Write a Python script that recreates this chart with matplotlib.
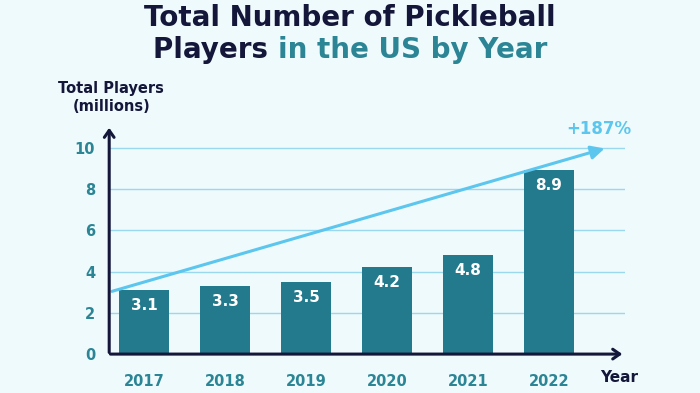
import matplotlib.pyplot as plt

years = ["2017", "2018", "2019", "2020", "2021", "2022"]
players = [3.1, 3.3, 3.5, 4.2, 4.8, 8.9]
yticks = [0, 2, 4, 6, 8, 10]
growth_label = "+187%"

bg = "#eefafc"
navy = "#14163a"
teal = "#2b8595"
bar_col = "#237a8c"
sky = "#5cc6ee"
grid_col = "#9ad8ee"

fig = plt.figure(figsize=(7, 3.93), dpi=100, facecolor=bg)
ax = fig.add_axes([0.156, 0.099, 0.737, 0.583])
ax.set_facecolor(bg)

x = list(range(len(years)))
ax.set_xlim(-0.43, 5.94)
ax.set_ylim(0, 11.1)

for t in yticks[1:]:
    ax.axhline(t, color=grid_col, lw=1, zorder=1)

bars = ax.bar(x, players, width=0.62, color=bar_col, zorder=2)
for xi, v in zip(x, players):
    ax.annotate(f"{v}", (xi, v), xytext=(0, -11), textcoords="offset points",
                ha="center", va="center", color="white", fontsize=11,
                fontweight="bold", zorder=4)

for s in ax.spines.values():
    s.set_visible(False)
ax.tick_params(length=0)
ax.set_yticks(yticks)
ax.set_yticklabels([str(t) for t in yticks], color=teal, fontsize=10.5, fontweight="bold")
ax.set_xticks(x)
ax.set_xticklabels(years, color=teal, fontsize=10.5, fontweight="bold")
ax.tick_params(axis="x", pad=14)
ax.tick_params(axis="y", pad=10)

# axis arrows
ax.annotate("", xy=(0, 1), xytext=(0, -0.005), xycoords="axes fraction",
            arrowprops=dict(arrowstyle="->,head_length=0.5,head_width=0.35", color=navy, lw=2.2),
            annotation_clip=False, zorder=5)
ax.annotate("", xy=(1, 0), xytext=(-0.003, 0), xycoords="axes fraction",
            arrowprops=dict(arrowstyle="->,head_length=0.5,head_width=0.35", color=navy, lw=2.2),
            annotation_clip=False, zorder=5)

# trend arrow
ax.annotate("", xy=(5.72, 10), xytext=(-0.43, 3.0),
            arrowprops=dict(arrowstyle="-|>,head_length=0.8,head_width=0.4", color=sky, lw=2.2),
            annotation_clip=False, zorder=3)
ax.text(5.62, 10.9, growth_label, color=sky, fontsize=12, fontweight="bold",
        ha="center", va="center")

fig.text(0.159, 0.752, "Total Players\n(millions)", color=navy, fontsize=10.5,
         fontweight="bold", ha="center", va="center", linespacing=1.25)
fig.text(0.885, 0.04, "Year", color=navy, fontsize=11, fontweight="bold",
         ha="center", va="center")

fig.text(0.5, 0.955, "Total Number of Pickleball", color=navy, fontsize=20,
         fontweight="bold", ha="center", va="center")
t1 = fig.text(0.5, 0.872, "Players ", color=navy, fontsize=20, fontweight="bold",
              ha="right", va="center")
t2 = fig.text(0.5, 0.872, "in the US by Year", color=teal, fontsize=20, fontweight="bold",
              ha="left", va="center")
fig.canvas.draw()
r = fig.canvas.get_renderer()
w1 = t1.get_window_extent(r).width / fig.bbox.width
w2 = t2.get_window_extent(r).width / fig.bbox.width
start = 0.5 - (w1 + w2) / 2
t1.set_ha("left")
t1.set_x(start)
t2.set_x(start + w1)

fig.savefig("out.png", dpi=100, facecolor=bg)
